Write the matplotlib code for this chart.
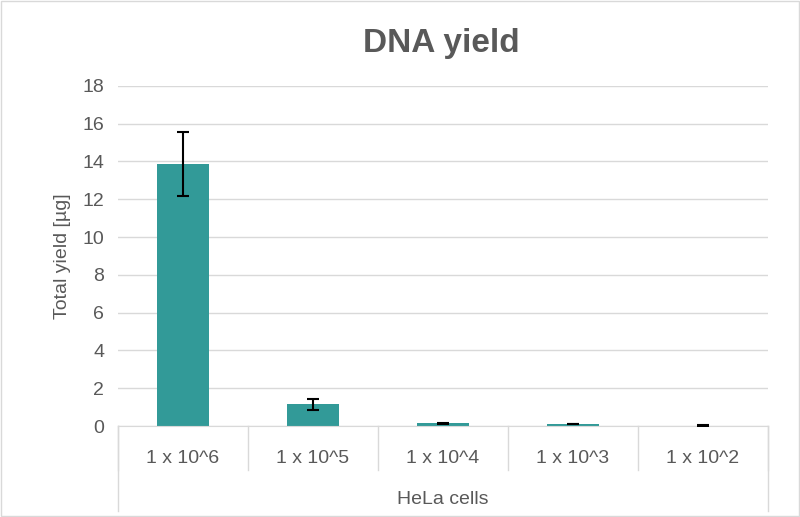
import matplotlib.pyplot as plt
import numpy as np

categories = ["1 x 10^6", "1 x 10^5", "1 x 10^4", "1 x 10^3", "1 x 10^2"]
yields = [13.85, 1.15, 0.15, 0.1, 0.02]
errors = [1.7, 0.3, 0.03, 0.02, 0.02]

plt.rcParams["font.family"] = "Liberation Sans"
fig = plt.figure(figsize=(8, 5.17), dpi=100)
ax = fig.add_axes([0.1475, 0.176, 0.8125, 0.658])

x = np.arange(len(categories))
ax.bar(x, yields, width=0.4, color="#329A98", zorder=2)
ax.errorbar(x, yields, yerr=errors, fmt="none", ecolor="black", elinewidth=1.5,
            capsize=4, capthick=1.5, zorder=3)

ax.set_xlim(-0.5, len(categories) - 0.5)
ax.set_ylim(0, 18)
ax.set_yticks(np.arange(0, 19, 2))
ax.yaxis.grid(True, color="#d9d9d9", linewidth=1, zorder=0)
ax.tick_params(axis="y", length=0, labelsize=14, labelcolor="#595959", pad=10)
ax.set_xticks([])
for s in ["top", "right", "left"]:
    ax.spines[s].set_visible(False)
ax.spines["bottom"].set_color("#d9d9d9")

# grouped category axis
gray = "#d9d9d9"
for i, c in enumerate(categories):
    ax.text(i, -0.095, c, transform=ax.get_xaxis_transform(), ha="center", va="center",
            fontsize=14, color="#595959")
for b in np.arange(-0.5, len(categories), 1):
    ax.plot([b, b], [0, -0.13], transform=ax.get_xaxis_transform(), color=gray,
            lw=1, clip_on=False)
for b in [-0.5, len(categories) - 0.5]:
    ax.plot([b, b], [0, -0.25], transform=ax.get_xaxis_transform(), color=gray,
            lw=1, clip_on=False)
ax.text(0.5, -0.215, "HeLa cells", transform=ax.transAxes, ha="center", va="center",
        fontsize=14, color="#595959")

ax.set_ylabel("Total yield [µg]", fontsize=14, color="#595959", labelpad=8)
fig.text(0.5515, 0.915, "DNA yield", ha="center", va="center", fontsize=24,
         fontweight="bold", color="#595959")

# chart area border
fig.patches.append(plt.Rectangle((0.001, 0.001), 0.998, 0.997, transform=fig.transFigure,
                                 fill=False, edgecolor="#d9d9d9", lw=1))

fig.savefig("out.png", dpi=100)
